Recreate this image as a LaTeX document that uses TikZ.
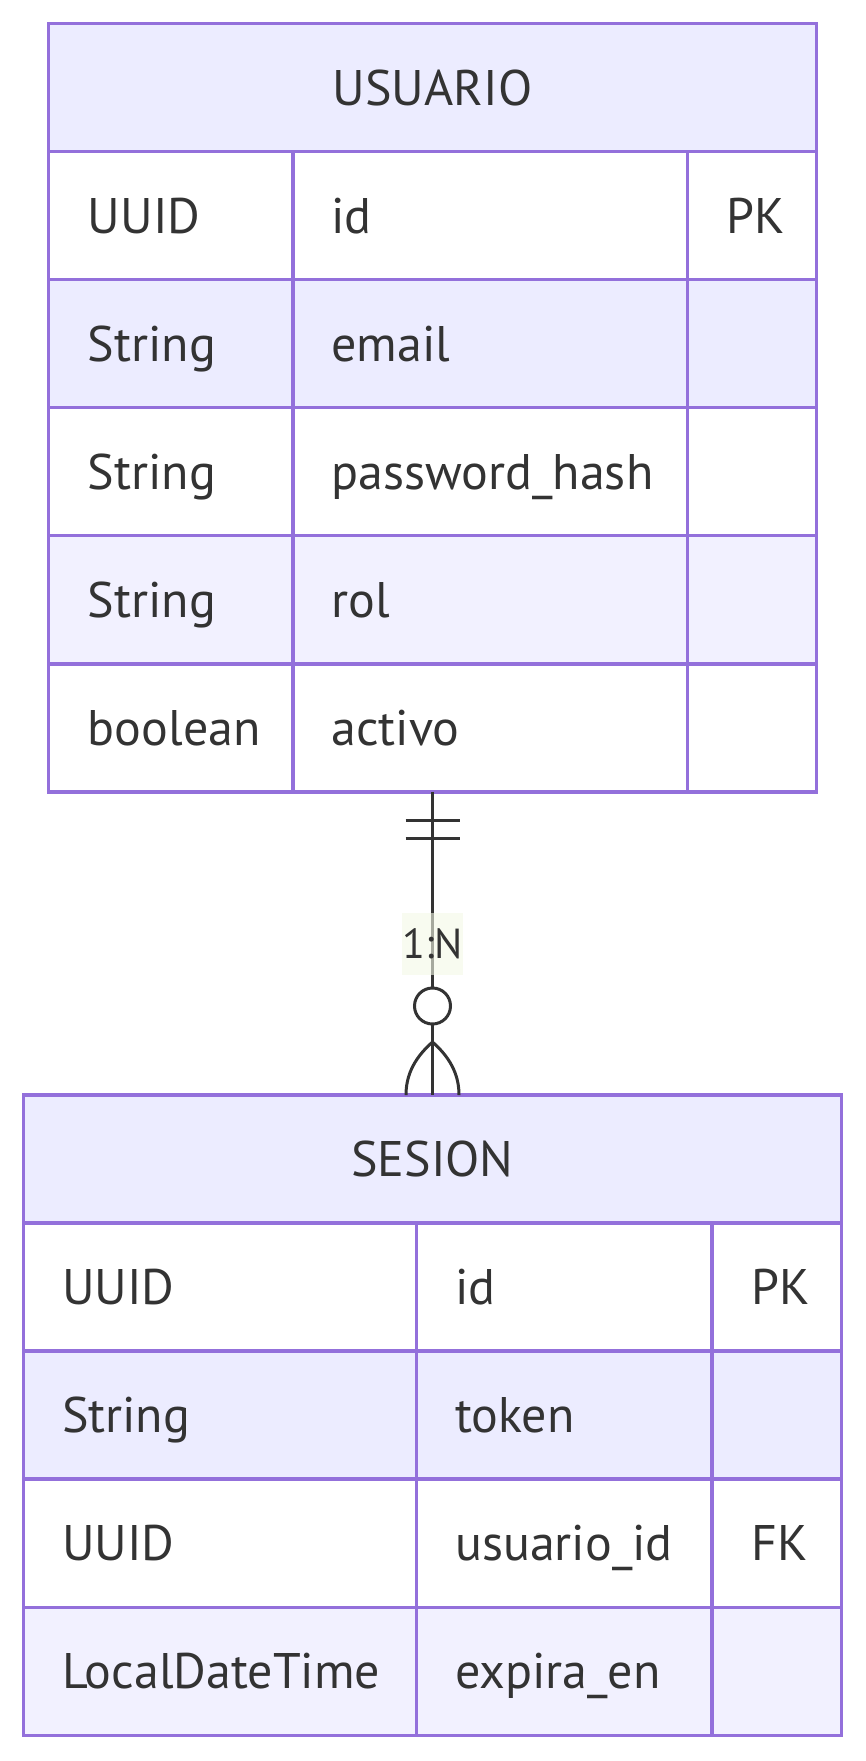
\documentclass[tikz,border=0pt]{standalone}
\usepackage{fontspec}
\setmainfont{PT Sans}
\definecolor{bd}{HTML}{9370DB}
\definecolor{hd}{HTML}{ECECFF}
\definecolor{ev}{HTML}{F2F1FF}
\definecolor{ink}{HTML}{333333}
\definecolor{lbl}{HTML}{F4F8E6}
\begin{document}
\begin{tikzpicture}[x=1pt,y=-1pt,
  tbl/.style={draw=bd, line width=3.5pt, inner sep=0pt, outer sep=0pt, anchor=north west},
  grid/.style={draw=bd, line width=3.5pt},
  txt/.style={anchor=base west, inner sep=0pt, font=\fontsize{50}{60}\selectfont, text=ink},
  ttl/.style={anchor=base, inner sep=0pt, font=\fontsize{50}{60}\selectfont, text=ink},
  edge/.style={draw=ink, line width=3pt},
  elabel/.style={fill=lbl, fill opacity=0.6, text opacity=1, text=ink, inner sep=0pt,
     minimum width=61pt, minimum height=62pt, font=\fontsize{42}{50}\selectfont}]
\useasboundingbox (0,0) rectangle (866,1761);

% ---------- USUARIO ----------
\fill[hd] (48.3,23.6) rectangle (816.6,151.6);
\fill[white] (48.3,151.6) rectangle (816.6,279.7);
\fill[hd] (48.3,279.7) rectangle (816.6,407.7);
\fill[white] (48.3,407.7) rectangle (816.6,535.7);
\fill[ev] (48.3,535.7) rectangle (816.6,663.8);
\fill[white] (48.3,663.8) rectangle (816.6,791.9);
\foreach \y in {151.6,279.7,407.7,535.7,663.8} \draw[grid] (48.3,\y) -- (816.6,\y);
\foreach \x in {293.2,687.4} \draw[grid] (\x,151.6) -- (\x,791.9);
\node[tbl, minimum width=768.3pt, minimum height=768.3pt] (usuario) at (48.3,23.6) {};

\node[ttl] (uTitle) at (432.5,105.1) {USUARIO};
\node[txt] (u1a) at (87.6,233.15) {UUID};
\node[txt] (u1b) at (331.3,233.15) {id};
\node[txt] (u1c) at (726.7,233.15) {PK};
\node[txt] (u2a) at (87.6,361.2) {String};
\node[txt] (u2b) at (331.3,361.2) {email};
\node[txt] (u3a) at (87.6,489.2) {String};
\node[txt] (u3b) at (331.3,489.2) {password\_hash};
\node[txt] (u4a) at (87.6,617.25) {String};
\node[txt] (u4b) at (331.3,617.25) {rol};
\node[txt] (u5a) at (87.6,745.35) {boolean};
\node[txt] (u5b) at (331.3,745.35) {activo};

% ---------- SESION ----------
\fill[hd] (23.6,1095.1) rectangle (841.3,1223.2);
\fill[white] (23.6,1223.2) rectangle (841.3,1351.2);
\fill[hd] (23.6,1351.2) rectangle (841.3,1479.2);
\fill[white] (23.6,1479.2) rectangle (841.3,1607.3);
\fill[ev] (23.6,1607.3) rectangle (841.3,1735.3);
\foreach \y in {1223.2,1351.2,1479.2,1607.3} \draw[grid] (23.6,\y) -- (841.3,\y);
\foreach \x in {416.7,712.1} \draw[grid] (\x,1223.2) -- (\x,1735.3);
\node[tbl, minimum width=817.7pt, minimum height=640.2pt] (sesion) at (23.6,1095.1) {};

\node[ttl] (sTitle) at (432.45,1176.65) {SESION};
\node[txt] (s1a) at (61.8,1304.7) {UUID};
\node[txt] (s1b) at (454.9,1304.7) {id};
\node[txt] (s1c) at (751.4,1304.7) {PK};
\node[txt] (s2a) at (61.8,1432.7) {String};
\node[txt] (s2b) at (454.9,1432.7) {token};
\node[txt] (s3a) at (61.8,1560.75) {UUID};
\node[txt] (s3b) at (454.9,1560.75) {usuario\_id};
\node[txt] (s3c) at (751.4,1560.75) {FK};
\node[txt] (s4a) at (61.8,1688.8) {LocalDateTime};
\node[txt] (s4b) at (454.9,1688.8) {expira\_en};

% ---------- relationship ----------
\coordinate (top) at (432.5,791.9);
\coordinate (bot) at (432.5,1095.1);
\draw[edge] (top) -- (bot);
% exactly one (double bar)
\draw[edge] (405.5,820) -- (459.5,820);
\draw[edge] (405.5,838) -- (459.5,838);
% zero (circle)
\node[circle, draw=ink, line width=3pt, fill=white, minimum size=36pt, inner sep=0pt] (zero) at (432.5,1006) {};
% many (crow's foot)
\coordinate (apex) at (432.5,1042);
\draw[edge] (apex) .. controls (412,1060) and (406,1078) .. (406,1095.1);
\draw[edge] (apex) .. controls (453,1060) and (459,1078) .. (459,1095.1);
% label
\node[elabel] (rel) at (432.5,944) {1:N};
\end{tikzpicture}
\end{document}
